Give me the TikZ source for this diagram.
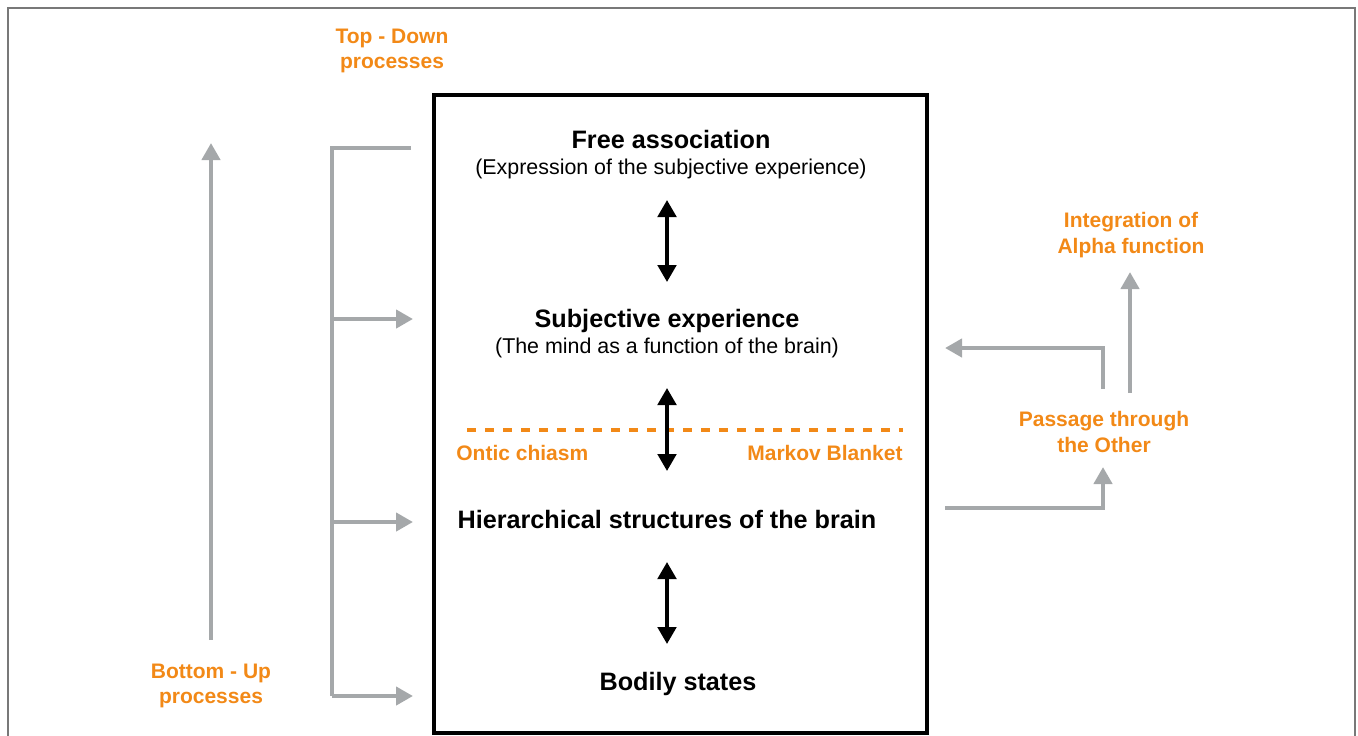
\documentclass[tikz,border=0pt]{standalone}
\usepackage{fontspec}
\setmainfont{Liberation Sans}
\usetikzlibrary{arrows.meta}
\definecolor{orangeL}{RGB}{242,137,23}
\definecolor{grayL}{RGB}{165,168,170}
\definecolor{frameL}{RGB}{120,120,120}
\tikzset{
  title/.style={inner sep=0pt, anchor=base, font=\bfseries\fontsize{12.6}{15}\selectfont},
  subtitle/.style={inner sep=0pt, anchor=base, font=\fontsize{10.7}{13}\selectfont},
  olabel/.style={inner sep=0pt, align=center, text=orangeL, font=\bfseries\fontsize{10.5}{12.6}\selectfont},
  garrow/.style={draw=grayL, line width=2.1pt, -{Triangle[length=8.5pt,width=9pt]}},
  gline/.style={draw=grayL, line width=2.1pt, line join=miter},
  barrow/.style={draw=black, line width=1.9pt, {Triangle[length=8.5pt,width=9.2pt]}-{Triangle[length=8.5pt,width=9.2pt]}},
}
\begin{document}
\begin{tikzpicture}[x=0.5pt,y=-0.5pt]
\useasboundingbox (0,0) rectangle (1358,735);
% outer frame
\draw[frameL, line width=0.8pt] (8,740) -- (8,8) -- (1355,8) -- (1355,740);
% main box
\draw[black, line width=1.75pt] (434,95) rectangle (927,733);

% texts in box
\node[title] (fa) at (671,148) {Free association};
\node[subtitle] (fas) at (671,174) {(Expression of the subjective experience)};
\node[title] (se) at (667,327) {Subjective experience};
\node[subtitle] (ses) at (667,353) {(The mind as a function of the brain)};
\node[title] (hs) at (667,528) {Hierarchical structures of the brain};
\node[title] (bs) at (678,690) {Bodily states};

% ontic chiasm / markov blanket
\coordinate (dl) at (467,430);
\coordinate (dr) at (903,430);
\draw[orangeL, line width=1.6pt, dash pattern=on 4.6pt off 4.4pt] (dl) -- (dr);
\node[inner sep=0pt, anchor=base west, text=orangeL, font=\bfseries\fontsize{10.5}{12}\selectfont] (oc) at (456,460) {Ontic chiasm};
\node[inner sep=0pt, anchor=base east, text=orangeL, font=\bfseries\fontsize{10.5}{12}\selectfont] (mb) at (903,460) {Markov Blanket};

% black double arrows
\coordinate (a1t) at (667,200); \coordinate (a1b) at (667,282);
\coordinate (a2t) at (667,388); \coordinate (a2b) at (667,471);
\coordinate (a3t) at (667,562); \coordinate (a3b) at (667,644);
\draw[barrow] (a1t) -- (a1b);
\draw[barrow] (a2t) -- (a2b);
\draw[barrow] (a3t) -- (a3b);

% orange side labels
\node[olabel] (td) at (392,51.3) {Top - Down\\processes};
\node[olabel] (bu) at (211,686.3) {Bottom - Up\\processes};
\node[olabel] (ia) at (1131,235) {Integration of\\Alpha function};
\node[olabel] (po) at (1104,432) {Passage through\\the Other};

% bottom-up arrow
\coordinate (bus) at (211,640);
\coordinate (bue) at (211,143);
\draw[garrow] (bus) -- (bue);

% top-down bracket
\coordinate (bt) at (411,148);
\coordinate (bc) at (332,148);
\coordinate (bb) at (332,696);
\coordinate (b1) at (332,319);
\coordinate (b2) at (332,522);
\draw[gline] (bt) -- (bc) -- (bb);
\draw[garrow] (b1) -- (413,319);
\draw[garrow] (b2) -- (413,522);
\draw[garrow] (bb) -- (413,696);

% right side loop
\coordinate (r1) at (945,508);
\coordinate (r2) at (1103,508);
\coordinate (r3) at (1103,467);
\draw[garrow, line join=miter] (r1) -- (r2) -- (r3);
\coordinate (r4) at (1103,389);
\coordinate (r5) at (1103,348);
\coordinate (r6) at (945,348);
\draw[garrow, line join=miter] (r4) -- (r5) -- (r6);
\coordinate (r7) at (1130,393);
\coordinate (r8) at (1130,272);
\draw[garrow] (r7) -- (r8);
\end{tikzpicture}
\end{document}
